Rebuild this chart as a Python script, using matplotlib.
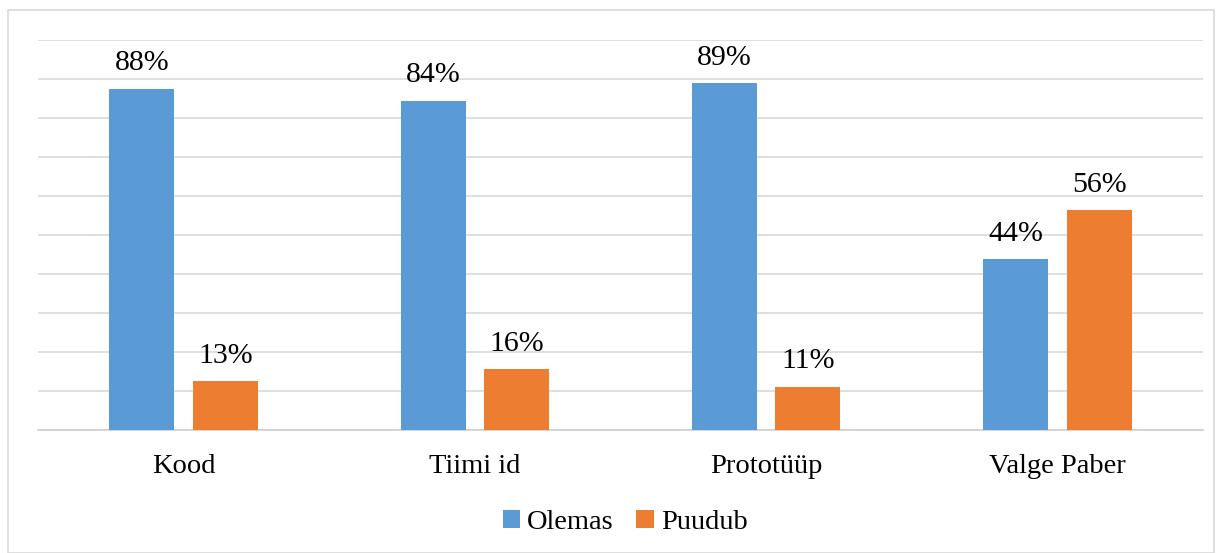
import matplotlib.pyplot as plt
import numpy as np
from matplotlib.patches import Rectangle

# andmed
kategooriad = ['Kood', 'Tiimi id', 'Prototüüp', 'Valge Paber']
olemas = [87.5, 84.4, 88.9, 43.8]
puudub = [12.5, 15.6, 11.1, 56.3]

plt.rcParams['font.family'] = ['Liberation Serif', 'DejaVu Serif']

fig = plt.figure(figsize=(12.21, 5.53), dpi=100)
ax = fig.add_axes([0.0311, 0.2224, 0.9542, 0.7053])

x = np.arange(len(kategooriad))
w = 0.223
off = 0.143
b1 = ax.bar(x - off, olemas, w, color='#5B9BD5', label='Olemas', zorder=3)
b2 = ax.bar(x + off, puudub, w, color='#ED7D31', label='Puudub', zorder=3)

for bars, vals in ((b1, olemas), (b2, puudub)):
    for b, v in zip(bars, vals):
        ax.annotate(f"{int(v + 0.5)}%", (b.get_x() + b.get_width() / 2, v),
                    xytext=(0, 9), textcoords='offset points',
                    ha='center', va='bottom', fontsize=21.5)

ax.set_xlim(-0.5, len(kategooriad) - 0.5)
ax.set_ylim(0, 100)
ax.set_yticks(np.arange(0, 101, 10))
ax.set_yticklabels([])
ax.tick_params(axis='y', length=0)
ax.set_xticks(x)
ax.set_xticklabels(kategooriad, fontsize=20.5)
ax.tick_params(axis='x', length=0, pad=17)
ax.yaxis.grid(True, color='#D9D9D9', linewidth=1.2, zorder=0)
for s in ['top', 'right', 'left']:
    ax.spines[s].set_visible(False)
ax.spines['bottom'].set_color('#D0D0D0')
ax.spines['bottom'].set_linewidth(1.2)

fig.legend(loc='center', bbox_to_anchor=(0.512, 0.055), ncol=2, frameon=False,
           fontsize=20.5, handlelength=0.6, handleheight=0.6, handletextpad=0.25,
           columnspacing=0.8)

fig.patches.append(Rectangle((0.0065, 0.0), 0.9875, 0.982, transform=fig.transFigure,
                             fill=False, edgecolor='#D9D9D9', linewidth=1.2))

plt.savefig('out.png')
